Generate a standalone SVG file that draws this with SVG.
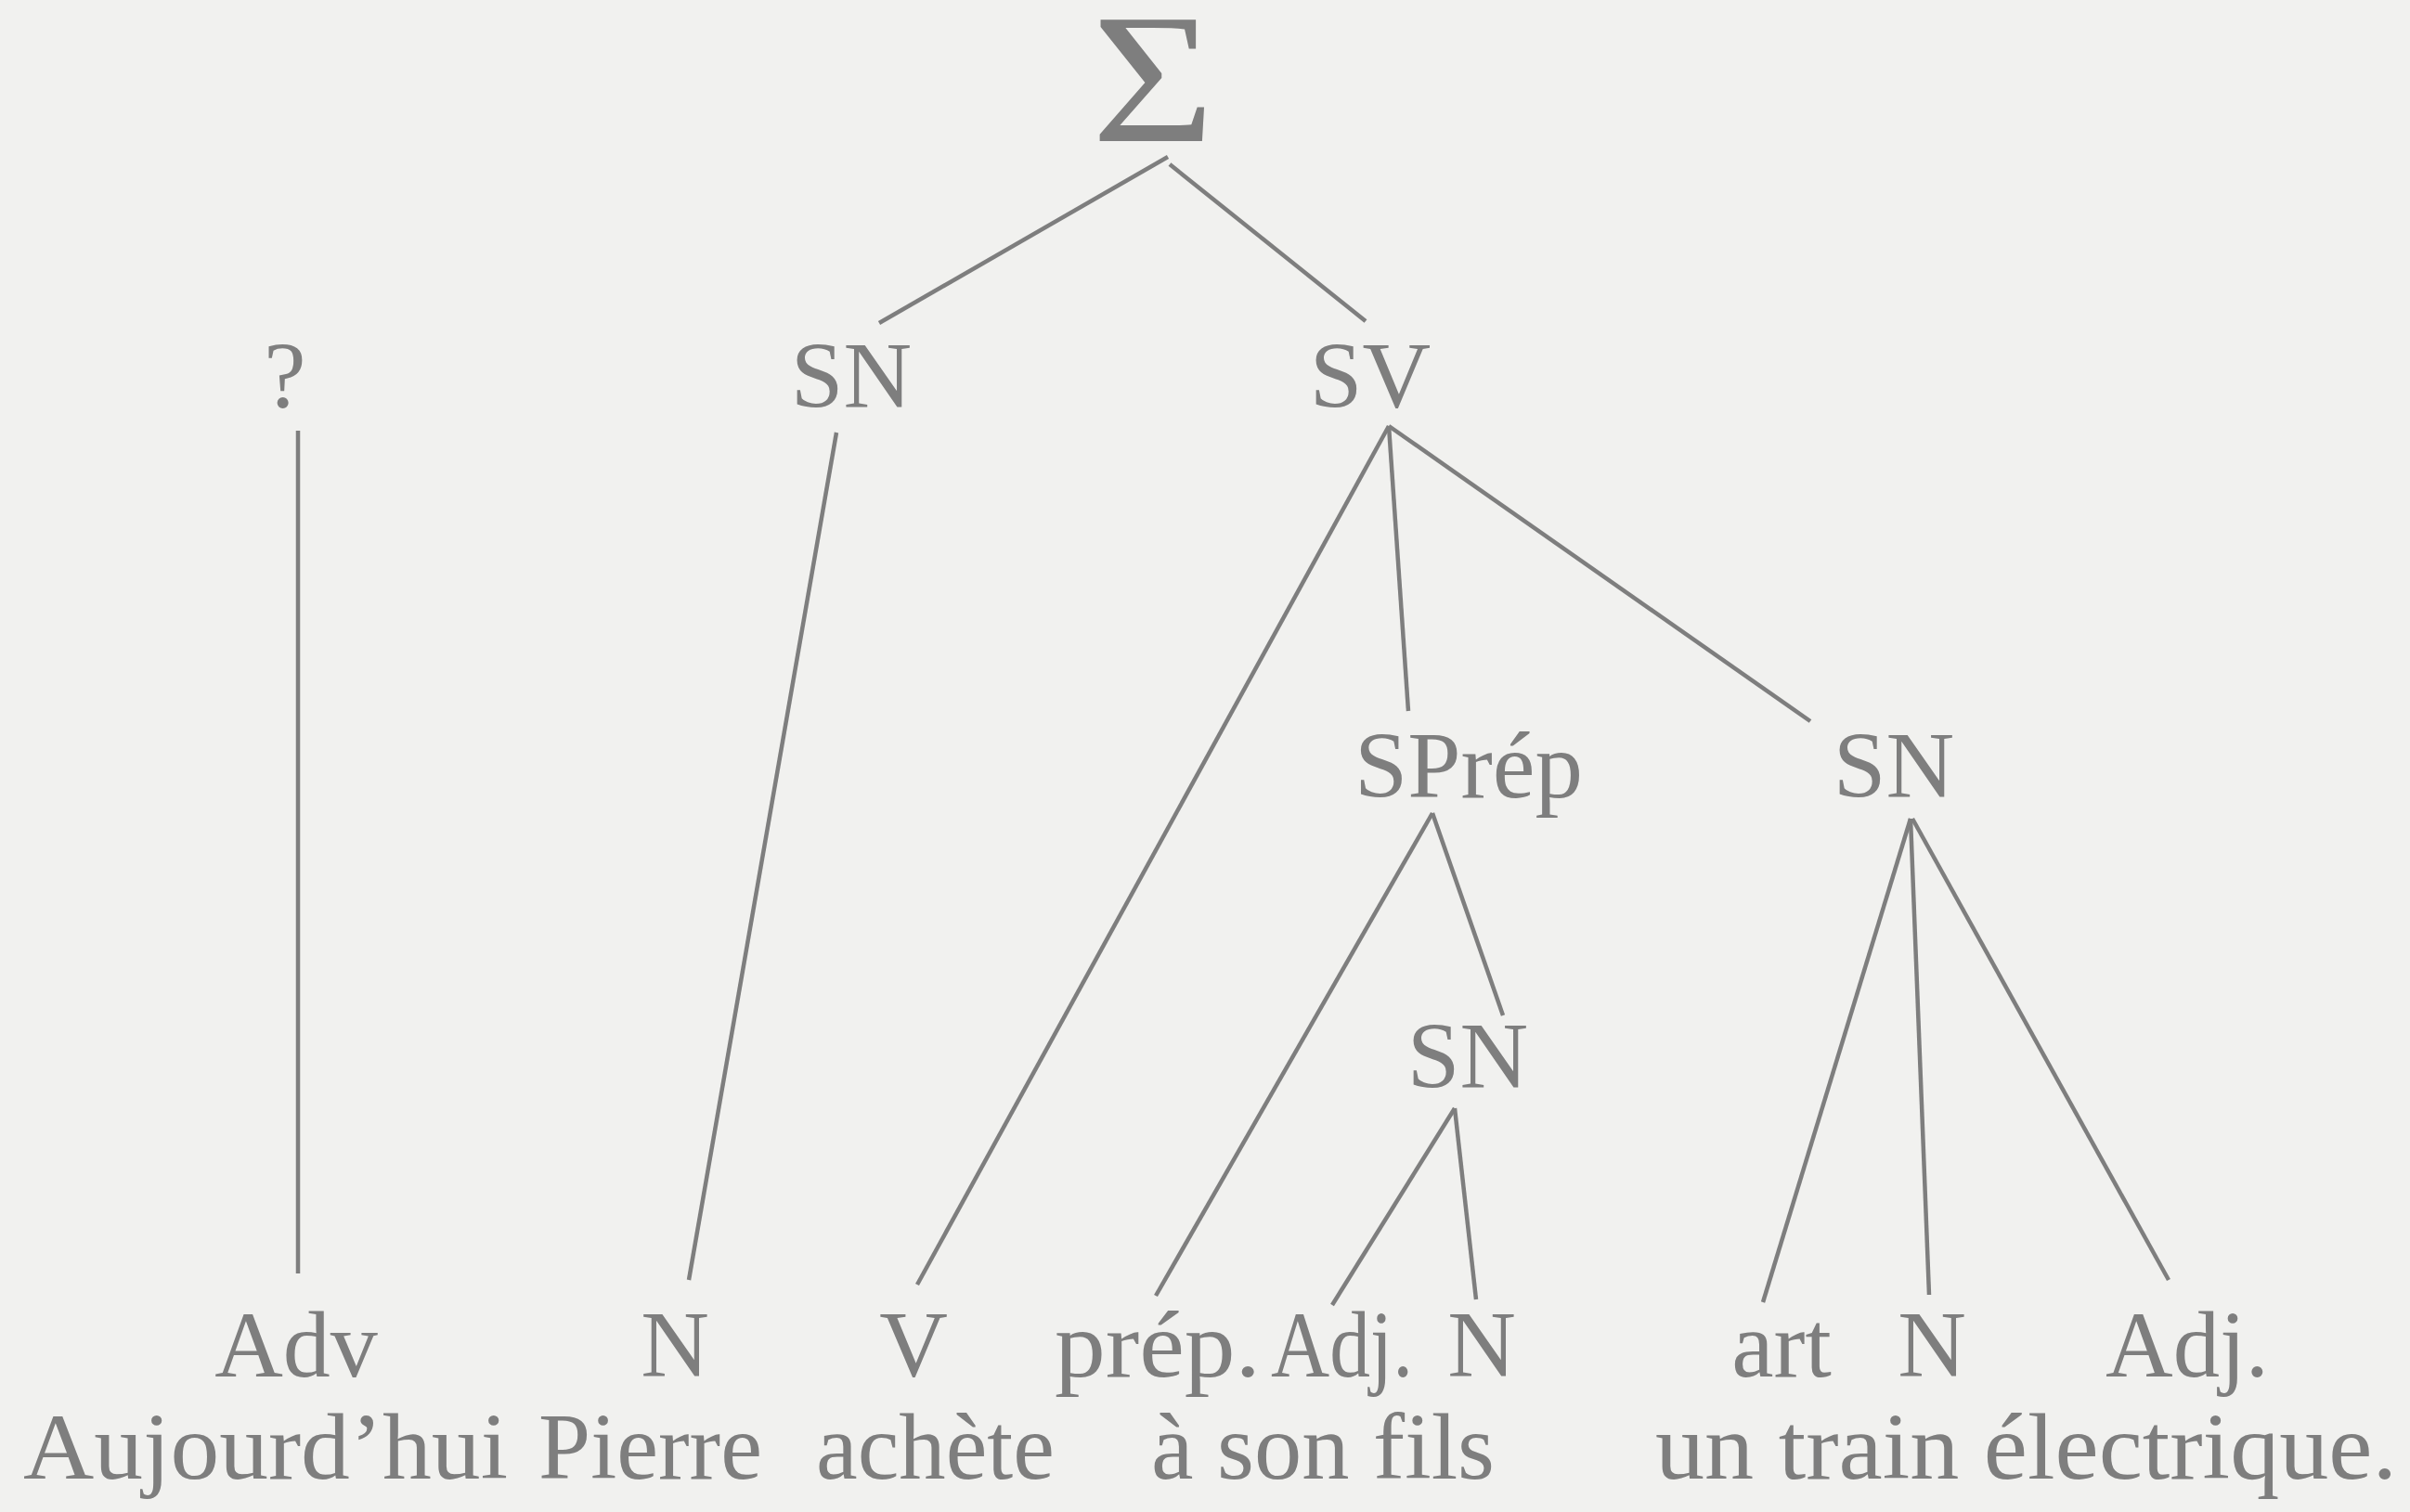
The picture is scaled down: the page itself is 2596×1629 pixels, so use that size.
<svg xmlns="http://www.w3.org/2000/svg" width="2596" height="1629" viewBox="0 0 2596 1629">
<style>
.t{font-family:"Liberation Serif","Times New Roman",serif;font-size:102px;fill:#7e7e7e}
.m{text-anchor:middle}
.e{stroke:#7e7e7e;stroke-width:4.5;fill:none;stroke-linecap:butt}
</style>
<rect x="0" y="0" width="2596" height="1629" fill="#f1f1ef"/>
<g id="connectors" class="e">
<line x1="1258" y1="169" x2="947" y2="348"/>
<line x1="1260" y1="177" x2="1471" y2="346"/>
<line x1="321" y1="464" x2="321" y2="1372"/>
<line x1="901" y1="466" x2="742" y2="1379"/>
<line x1="1496" y1="459" x2="988" y2="1384"/>
<line x1="1496" y1="459" x2="1517" y2="766"/>
<line x1="1496" y1="459" x2="1950" y2="777"/>
<line x1="1543" y1="876" x2="1245" y2="1396"/>
<line x1="1543" y1="876" x2="1619" y2="1094"/>
<line x1="1567" y1="1194" x2="1435" y2="1406"/>
<line x1="1567" y1="1194" x2="1590" y2="1400"/>
<line x1="2058" y1="882" x2="1899" y2="1403"/>
<line x1="2058" y1="882" x2="2078" y2="1395"/>
<line x1="2060" y1="882" x2="2336" y2="1379"/>
</g>
<g id="node-sigma"><text class="t m" transform="translate(1242,152) scale(1.14,1)" x="0" y="0" style="font-size:200px">Σ</text></g>
<g id="node-q"><text class="t m" x="307" y="439">?</text></g>
<g id="node-sn1"><text class="t m" x="917" y="439">SN</text></g>
<g id="node-sv"><text class="t m" x="1476" y="439">SV</text></g>
<g id="node-sprep"><text class="t" x="1459" y="859" textLength="246" lengthAdjust="spacingAndGlyphs">SPrép</text></g>
<g id="node-sn2"><text class="t m" x="2040" y="859">SN</text></g>
<g id="node-sn3"><text class="t m" x="1581" y="1172">SN</text></g>
<g id="node-adv"><text class="t m" x="319" y="1483">Adv</text><text class="t" x="25" y="1593" textLength="522" lengthAdjust="spacingAndGlyphs">Aujourd’hui</text></g>
<g id="node-n1"><text class="t m" x="727" y="1483">N</text><text class="t" x="580" y="1593" textLength="241" lengthAdjust="spacingAndGlyphs">Pierre</text></g>
<g id="node-v"><text class="t m" x="984" y="1483">V</text><text class="t" x="879" y="1593" textLength="257" lengthAdjust="spacingAndGlyphs">achète</text></g>
<g id="node-prep"><text class="t" x="1136" y="1483" textLength="222" lengthAdjust="spacingAndGlyphs">prép.</text></g>
<g id="node-adj1"><text class="t" x="1369" y="1483" textLength="153" lengthAdjust="spacingAndGlyphs">Adj.</text></g>
<g id="node-n2"><text class="t m" x="1596" y="1483">N</text></g>
<g id="node-words2"><text class="t" x="1240" y="1593" textLength="370" lengthAdjust="spacingAndGlyphs">à son fils</text></g>
<g id="node-art"><text class="t m" x="1919" y="1483">art</text></g>
<g id="node-n3"><text class="t m" x="2081" y="1483">N</text></g>
<g id="node-adj2"><text class="t" x="2268" y="1483" textLength="176" lengthAdjust="spacingAndGlyphs">Adj.</text></g>
<g id="node-words3"><text class="t" x="1783" y="1593" textLength="799" lengthAdjust="spacingAndGlyphs">un train électrique.</text></g>
</svg>
